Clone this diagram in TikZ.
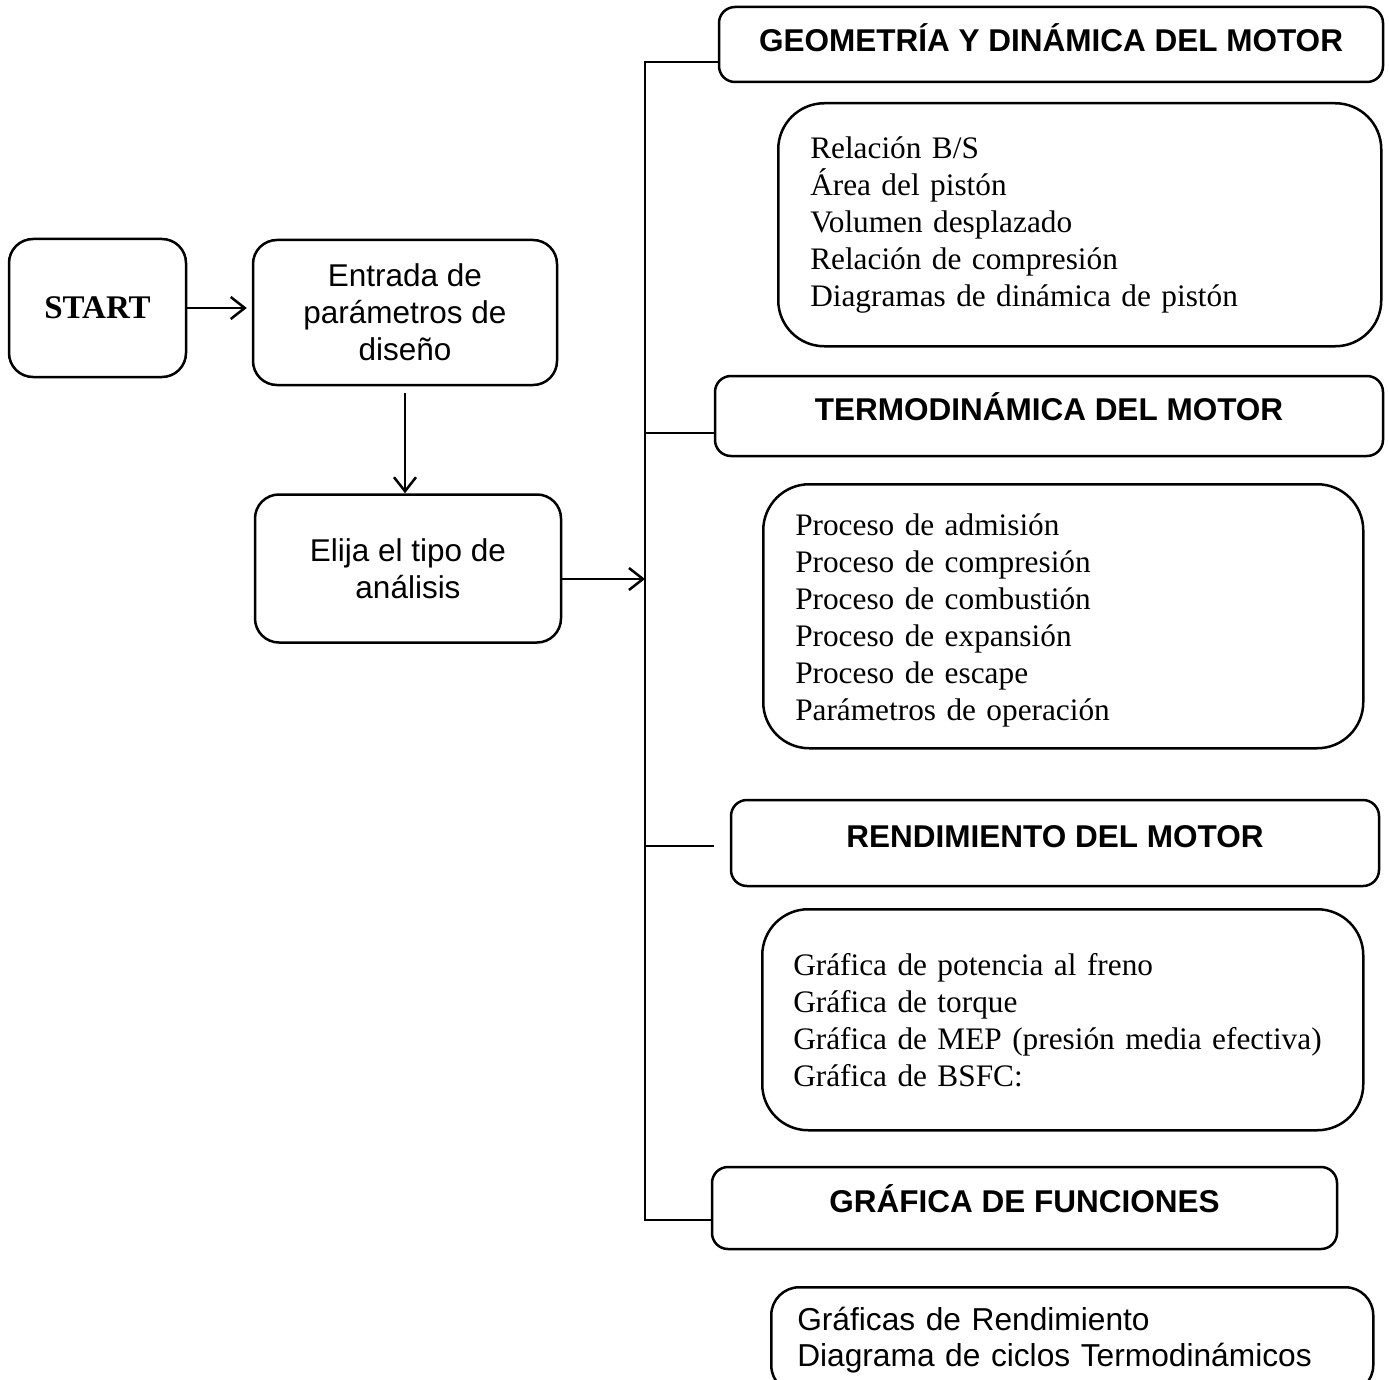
\documentclass[tikz,border=0pt]{standalone}
\usepackage{fontspec}
\setmainfont{Liberation Serif}
\newfontfamily\arial{Liberation Sans}
\usetikzlibrary{arrows.meta}
\begin{document}
\begin{tikzpicture}[x=1pt,y=-1pt,
  box/.style={draw, line width=2.5pt, rounded corners=24pt, inner sep=0pt},
  hdr/.style={draw, line width=2.5pt, rounded corners=16pt, inner sep=0pt,
     font=\arial\bfseries\fontsize{31.5}{36}\selectfont, text height=23pt, text depth=14pt},
  content/.style={draw, line width=2.5pt, rounded corners=46pt, inner sep=0pt,
     align=left, anchor=north west, font=\fontsize{31.3}{37}\selectfont},
  lnk/.style={line width=2.5pt},
  arr/.style={line width=2.5pt, -{Straight Barb[length=14pt,width=22pt,line width=2.5pt]}}
]
\clip (0,0) rectangle (1389,1380);
\fill[white] (0,0) rectangle (1389,1380);

% left column
\node[box, minimum width=177pt, minimum height=138pt, font=\bfseries\fontsize{33}{38}\selectfont] (start) at (97.5,308) {START};
\node[box, minimum width=304pt, minimum height=145pt, align=center, font=\arial\fontsize{31.5}{37}\selectfont] (entrada) at (405,312.5) {Entrada de\\parámetros de\\diseño};
\node[box, minimum width=306pt, minimum height=148pt, align=center, font=\arial\fontsize{31.5}{37}\selectfont] (elija) at (408,568.5) {Elija el tipo de\\análisis};

% headers
\node[hdr, minimum width=664pt, minimum height=75pt, text depth=9pt] (geo) at (1051,44.5) {GEOMETRÍA Y DINÁMICA DEL MOTOR};
\node[hdr, minimum width=668pt, minimum height=80pt] (termo) at (1049,416) {TERMODINÁMICA DEL MOTOR};
\node[hdr, minimum width=648pt, minimum height=86pt] (rend) at (1055,843) {RENDIMIENTO DEL MOTOR};
\node[hdr, minimum width=625pt, minimum height=82pt] (graf) at (1024.5,1208) {GRÁFICA DE FUNCIONES};

% content boxes
\node[content, text width=603pt, minimum height=243pt] (geoc) at (777,102)
  {\leftskip=32pt Relación B/S\\Área del pistón\\Volumen desplazado\\Relación de compresión\\Diagramas de dinámica de pistón\par};
\node[content, text width=600pt, minimum height=264pt] (termoc) at (762,483)
  {\leftskip=32pt\rule{0pt}{31pt}Proceso de admisión\\Proceso de compresión\\Proceso de combustión\\Proceso de expansión\\Proceso de escape\\Parámetros de operación\par};
\node[content, text width=601pt, minimum height=221pt] (rendc) at (761,908)
  {\leftskip=31pt Gráfica de potencia al freno\\Gráfica de torque\\Gráfica de MEP (presión media efectiva)\\Gráfica de BSFC:\par};
\node[content, rounded corners=28pt, text width=602pt, minimum height=106pt,
  font=\arial\fontsize{31.7}{36}\selectfont] (grafc) at (770,1286)
  {\leftskip=26pt Gráficas de Rendimiento\\Diagrama de ciclos Termodinámicos\par};

% connectors
\coordinate (j1) at (645,62);
\coordinate (j2) at (645,433);
\coordinate (j3) at (645,846);
\coordinate (j4) at (645,1220);
\coordinate (r3) at (714,846);
\coordinate (ea) at ([yshift=-10.5pt]elija.east);

\draw[arr] (start.east) -- ([xshift=-5pt]entrada.west |- start.east);
\draw[arr] ([yshift=-7pt]entrada.south) -- (entrada.south |- elija.north);
\draw[arr] (ea) -- (ea -| j1);

\draw[lnk] (j1 -| geo.west) -- (j1) -- (j4) -- (j4 -| graf.west);
\draw[lnk] (j2) -- (j2 -| termo.west);
\draw[lnk] (j3) -- (r3);
\end{tikzpicture}
\end{document}
